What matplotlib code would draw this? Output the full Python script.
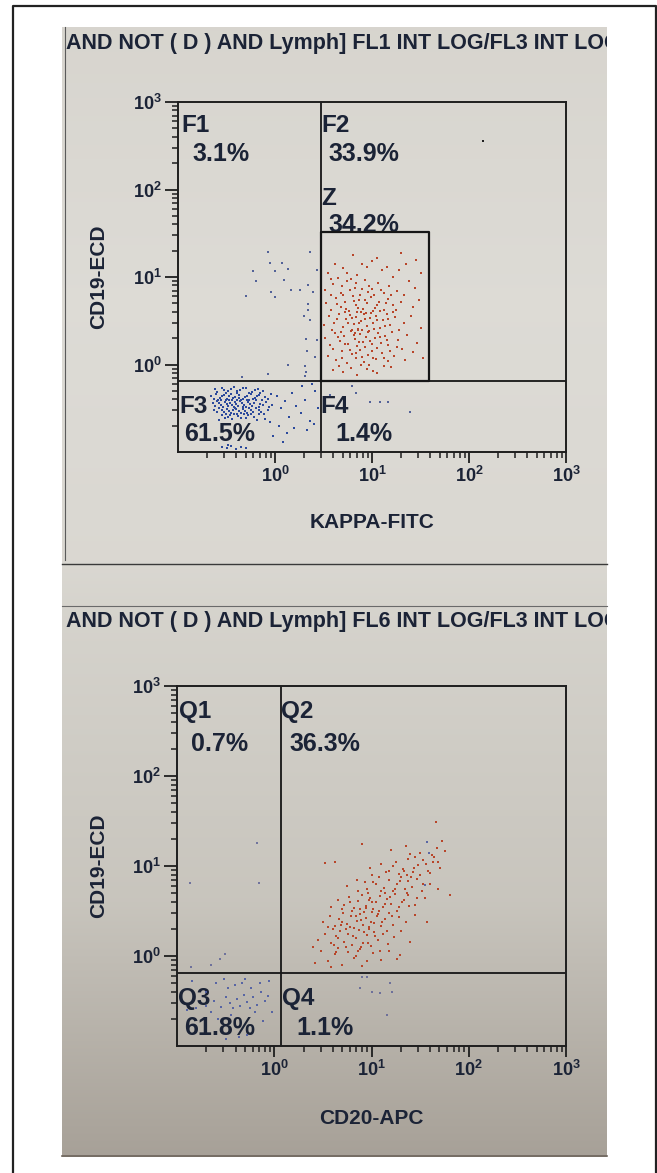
import numpy as np
import matplotlib
matplotlib.use("Agg")
import matplotlib.pyplot as plt
from matplotlib.patches import Rectangle
from matplotlib.ticker import FixedLocator, FixedFormatter, LogLocator, NullFormatter

plt.rcParams['font.family'] = ['Liberation Sans', 'DejaVu Sans']
plt.rcParams['mathtext.fontset'] = 'custom'
plt.rcParams['mathtext.rm'] = 'Liberation Sans'
plt.rcParams['mathtext.bf'] = 'Liberation Sans:bold'

# ---------------- data ----------------
title_top = "AND NOT ( D ) AND Lymph] FL1 INT LOG/FL3 INT LOG"
title_bot = "AND NOT ( D ) AND Lymph] FL6 INT LOG/FL3 INT LOG"
xlabel_top = "KAPPA-FITC"
xlabel_bot = "CD20-APC"
ylabel = "CD19-ECD"
decade_ticks = [1, 10, 100, 1000]
decade_labels = [r'$\mathbf{10^{0}}$', r'$\mathbf{10^{1}}$', r'$\mathbf{10^{2}}$', r'$\mathbf{10^{3}}$']
axis_range = [0.1, 1000]

# quadrant / gate boundaries (linear units)
top_quad_x = 3.0
top_quad_y = 0.65
z_gate_x = [3.0, 39.0]
z_gate_y = [0.65, 32.6]
bot_quad_x = 1.16
bot_quad_y = 0.65

top_names = ["F1", "F2", "Z", "F3", "F4"]
top_pcts = ["3.1%", "33.9%", "34.2%", "61.5%", "1.4%"]
bot_names = ["Q1", "Q2", "Q3", "Q4"]
bot_pcts = ["0.7%", "36.3%", "61.8%", "1.1%"]

# events, given as (log10 x, log10 y)
top_red = [
    (0.80,1.25),(1.05,1.22),(1.30,1.28),(1.45,1.20),(0.62,1.15),
    (0.55,1.05),(0.70,1.10),(0.85,1.02),(0.95,1.12),(1.10,1.08),(1.22,1.00),(1.35,1.15),(1.50,1.05),(0.78,0.98),(1.00,1.18),
    (0.52,0.85),(0.60,0.92),(0.68,0.82),(0.74,0.95),(0.82,0.88),(0.88,0.80),(0.93,0.97),(1.00,0.86),(1.06,0.93),(1.12,0.82),
    (1.18,0.90),(1.26,0.84),(1.38,0.95),(0.65,0.99),(0.96,0.83),
    (0.53,0.70),(0.58,0.62),(0.63,0.76),(0.68,0.66),(0.72,0.72),(0.76,0.61),(0.80,0.78),(0.84,0.68),(0.87,0.74),(0.91,0.63),
    (0.95,0.70),(0.99,0.77),(1.03,0.65),(1.07,0.72),(1.12,0.62),(1.16,0.75),(1.22,0.68),(1.30,0.72),(1.42,0.66),(0.70,0.79),
    (0.89,0.60),(1.01,0.61),
    (0.51,0.45),(0.56,0.55),(0.61,0.48),(0.66,0.58),(0.70,0.43),(0.73,0.52),(0.77,0.57),(0.81,0.46),(0.84,0.54),(0.86,0.41),
    (0.89,0.50),(0.92,0.58),(0.95,0.44),(0.98,0.53),(1.01,0.47),(1.04,0.56),(1.08,0.42),(1.11,0.51),(1.15,0.58),(1.19,0.45),
    (1.24,0.54),(1.33,0.48),(1.40,0.55),(1.50,0.42),(0.79,0.40),(0.94,0.59),
    (0.52,0.30),(0.57,0.22),(0.62,0.36),(0.67,0.27),(0.71,0.33),(0.75,0.24),(0.78,0.38),(0.82,0.29),(0.85,0.21),(0.88,0.35),
    (0.91,0.26),(0.94,0.32),(0.97,0.38),(1.00,0.23),(1.03,0.30),(1.06,0.36),(1.09,0.25),(1.13,0.33),(1.17,0.22),(1.21,0.37),
    (1.27,0.28),(1.36,0.34),(1.46,0.25),(0.86,0.39),
    (0.55,0.10),(0.63,0.05),(0.69,0.16),(0.74,0.02),(0.79,0.12),(0.84,0.07),(0.88,0.17),(0.92,0.03),(0.96,0.11),(1.00,0.15),
    (1.04,0.06),(1.10,0.13),(1.16,0.04),(1.23,0.10),(1.31,0.18),(1.53,0.08),(0.97,0.00),
    (0.70,-0.08),(0.85,-0.12),(0.95,-0.05),(1.05,-0.10),(1.20,-0.03),(0.60,-0.06),
    (0.58,0.80),(0.64,0.69),(0.69,0.90),(0.73,0.63),(0.77,0.85),(0.81,0.73),(0.83,0.93),(0.86,0.65),(0.90,0.86),(0.93,0.74),
    (0.97,0.90),(1.02,0.79),(1.05,0.68),(1.09,0.85),(1.14,0.70),(1.20,0.79),(1.25,0.62),(1.33,0.80),(1.44,0.88),(1.48,0.74),
    (0.59,0.40),(0.64,0.52),(0.68,0.37),(0.72,0.60),(0.75,0.47),(0.79,0.53),(0.82,0.36),(0.85,0.60),(0.87,0.47),(0.90,0.40),
    (0.93,0.52),(0.96,0.37),(0.99,0.59),(1.02,0.41),(1.05,0.51),(1.08,0.61),(1.13,0.44),(1.17,0.52),(1.22,0.60),(1.28,0.40),
    (0.60,0.18),(0.65,0.31),(0.69,0.08),(0.72,0.24),(0.77,0.17),(0.81,0.34),(0.83,0.13),(0.87,0.26),(0.90,0.09),(0.93,0.20),
    (0.98,0.27),(1.01,0.08),(1.05,0.19),(1.08,0.31),(1.12,0.07),(1.15,0.28),(1.19,0.15),(1.26,0.20),(1.34,0.05),(1.42,0.14),
    (0.66,-0.02),(0.78,-0.04),(0.89,-0.01),(1.01,-0.07),(1.12,-0.02),(0.74,1.05),(0.90,1.15),(1.15,1.12),(1.28,1.08),(0.58,0.98),
]
top_blue = [
    (-0.62,-0.28),(-0.55,-0.27),(-0.48,-0.30),(-0.42,-0.26),(-0.36,-0.29),(-0.30,-0.27),(-0.24,-0.31),(-0.18,-0.28),(-0.12,-0.30),
    (-0.51,-0.32),(-0.39,-0.32),(-0.27,-0.32),
    (-0.66,-0.36),(-0.61,-0.34),(-0.57,-0.38),(-0.53,-0.35),(-0.49,-0.39),(-0.45,-0.34),(-0.41,-0.37),(-0.37,-0.35),(-0.33,-0.39),
    (-0.29,-0.36),(-0.25,-0.34),(-0.21,-0.38),(-0.16,-0.35),(-0.10,-0.37),(-0.04,-0.34),(-0.59,-0.40),(-0.47,-0.36),(-0.35,-0.40),
    (-0.23,-0.39),
    (-0.64,-0.44),(-0.60,-0.42),(-0.56,-0.46),(-0.52,-0.43),(-0.48,-0.47),(-0.44,-0.41),(-0.40,-0.45),(-0.36,-0.42),(-0.32,-0.46),
    (-0.28,-0.43),(-0.24,-0.47),(-0.20,-0.41),(-0.15,-0.45),(-0.09,-0.43),(-0.03,-0.46),(-0.54,-0.48),(-0.42,-0.48),(-0.30,-0.48),
    (-0.46,-0.44),(-0.38,-0.47),
    (-0.63,-0.52),(-0.58,-0.50),(-0.53,-0.54),(-0.49,-0.51),(-0.45,-0.55),(-0.41,-0.50),(-0.37,-0.53),(-0.33,-0.51),(-0.29,-0.55),
    (-0.25,-0.52),(-0.20,-0.50),(-0.14,-0.54),(-0.07,-0.52),(-0.47,-0.53),(-0.39,-0.56),(-0.27,-0.50),
    (-0.55,-0.58),(-0.48,-0.60),(-0.42,-0.57),(-0.35,-0.61),(-0.28,-0.58),(-0.22,-0.60),(-0.16,-0.57),(-0.10,-0.62),(-0.32,-0.57),
    (-0.44,-0.62),
    (-0.60,-0.31),(-0.53,-0.29),(-0.45,-0.28),(-0.39,-0.30),(-0.33,-0.27),(-0.21,-0.29),(-0.15,-0.32),
    (-0.63,-0.39),(-0.55,-0.36),(-0.51,-0.41),(-0.43,-0.38),(-0.39,-0.41),(-0.31,-0.37),(-0.27,-0.41),(-0.19,-0.36),(-0.13,-0.40),
    (-0.07,-0.39),
    (-0.62,-0.47),(-0.58,-0.44),(-0.50,-0.45),(-0.44,-0.46),(-0.34,-0.44),(-0.26,-0.45),(-0.22,-0.44),(-0.17,-0.48),(-0.12,-0.46),
    (-0.06,-0.48),
    (-0.60,-0.54),(-0.55,-0.52),(-0.51,-0.56),(-0.43,-0.52),(-0.35,-0.55),(-0.31,-0.53),(-0.23,-0.54),(-0.17,-0.52),(-0.11,-0.56),
    (-0.52,-0.61),(-0.46,-0.58),(-0.38,-0.59),(-0.30,-0.61),(-0.25,-0.57),(-0.19,-0.63),(-0.58,-0.63),
    (-0.41,-0.43),(-0.37,-0.38),(-0.47,-0.41),(-0.56,-0.41),(-0.29,-0.40),(-0.33,-0.49),(-0.40,-0.51),
    (0.02,-0.36),(0.06,-0.50),(0.10,-0.42),(0.14,-0.60),(0.18,-0.33),(0.22,-0.47),(0.27,-0.55),(0.31,-0.40),(0.36,-0.64),
    (0.41,-0.30),(0.44,-0.50),(-0.05,-0.66),(0.04,-0.70),(0.12,-0.78),(0.20,-0.72),(0.33,-0.75),(0.40,-0.68),(-0.02,-0.82),
    (0.08,-0.88),(0.28,-0.25),(0.38,-0.22),
    (-0.55,-0.94),(-0.50,-0.95),(-0.45,-0.93),(-0.40,-0.96),(-0.35,-0.94),(-0.30,-0.95),(-0.48,-0.92),
]
top_scatter = [
    (-0.07,1.29),(0.36,1.29),(0.07,1.16),(-0.05,1.16),(0.13,1.09),(0.00,1.07),(-0.23,1.07),(-0.20,0.95),(0.09,0.97),
    (-0.04,0.83),(-0.30,0.78),(0.00,0.77),(0.17,0.85),(0.26,0.85),(0.34,0.91),(0.39,0.83),(0.34,0.69),(0.34,0.62),
    (0.30,0.55),(0.36,0.51),(0.32,0.29),(0.33,0.16),(0.13,0.00),(0.31,-0.02),(0.32,-0.08),(-0.07,-0.11),(-0.34,-0.14),
    (0.31,-0.13),(0.43,1.08),(0.43,0.28),(0.41,0.09),
    (0.84,-0.33),(0.98,-0.43),(1.08,-0.43),(1.17,-0.43),(1.39,-0.54),(0.79,-0.25),(0.57,-0.35),
]
top_debris = [(2.14,2.56)]

bot_red = [
    (0.42,-0.08),(0.55,-0.05),(0.62,0.02),(0.70,-0.10),(0.76,0.05),(0.82,-0.02),(0.88,0.08),(0.95,-0.06),(1.02,0.03),(1.10,-0.04),
    (1.18,0.06),(0.48,0.06),(0.66,0.09),(0.90,-0.11),(1.26,-0.03),(0.58,-0.12),
    (0.45,0.18),(0.52,0.25),(0.58,0.14),(0.63,0.22),(0.68,0.28),(0.72,0.16),(0.76,0.24),(0.80,0.12),(0.84,0.20),(0.87,0.29),
    (0.91,0.15),(0.95,0.23),(0.99,0.11),(1.03,0.27),(1.07,0.18),(1.12,0.24),(1.17,0.13),(1.23,0.21),(1.30,0.28),(1.40,0.16),
    (0.74,0.30),(0.89,0.10),(0.97,0.30),(0.61,0.12),
    (0.50,0.38),(0.57,0.45),(0.62,0.33),(0.67,0.41),(0.71,0.48),(0.75,0.36),(0.79,0.44),(0.82,0.31),(0.85,0.39),(0.88,0.47),
    (0.91,0.35),(0.94,0.42),(0.97,0.32),(1.00,0.49),(1.03,0.37),(1.06,0.44),(1.10,0.33),(1.14,0.41),(1.18,0.48),(1.22,0.35),
    (1.28,0.43),(1.35,0.38),(1.45,0.46),(0.80,0.50),(0.92,0.49),(0.69,0.34),(1.08,0.50),
    (0.58,0.55),(0.66,0.62),(0.72,0.57),(0.77,0.66),(0.82,0.53),(0.86,0.61),(0.90,0.68),(0.94,0.56),(0.98,0.64),(1.02,0.52),
    (1.05,0.60),(1.09,0.67),(1.12,0.55),(1.16,0.63),(1.20,0.58),(1.24,0.69),(1.28,0.54),(1.33,0.62),(1.38,0.68),(1.45,0.57),
    (1.55,0.65),(0.96,0.70),(1.14,0.70),(0.88,0.52),
    (0.75,0.78),(0.85,0.84),(0.95,0.75),(1.02,0.82),(1.08,0.88),(1.13,0.76),(1.18,0.85),(1.22,0.72),(1.26,0.80),(1.30,0.88),
    (1.34,0.74),(1.38,0.83),(1.42,0.77),(1.47,0.86),(1.52,0.72),(1.60,0.80),(1.68,0.75),(1.10,0.72),(1.36,0.90),
    (0.98,0.98),(1.10,1.02),(1.18,0.94),(1.25,1.05),(1.32,0.97),(1.38,1.08),(1.43,0.93),(1.48,1.01),(1.53,1.07),(1.58,0.95),
    (1.63,1.04),(1.70,0.98),(1.45,1.10),(1.28,0.91),
    (1.20,1.18),(1.35,1.22),(1.50,1.15),(1.62,1.12),(1.67,1.20),(1.72,1.28),(1.40,1.13),(1.76,1.17),
    (0.52,1.03),(0.62,1.04),(0.90,1.25),(1.66,1.49),(1.81,0.68),(1.57,0.38),(1.29,0.01),(0.40,0.10),
    (0.60,0.30),(0.66,0.20),(0.70,0.38),(0.74,0.10),(0.78,0.32),(0.81,0.22),(0.84,0.45),(0.86,0.06),(0.89,0.40),(0.92,0.27),
    (0.94,0.53),(0.96,0.15),(0.99,0.38),(1.01,0.60),(1.04,0.22),(1.07,0.47),(1.09,0.06),(1.11,0.38),(1.14,0.58),(1.16,0.28),
    (1.19,0.66),(1.21,0.44),(1.24,0.75),(1.26,0.50),(1.29,0.83),(1.31,0.60),(1.33,0.95),(1.36,0.70),(1.39,0.56),(1.41,0.88),
    (1.44,0.98),(1.47,0.64),(1.50,0.90),(1.53,0.80),(1.56,1.02),(1.60,0.92),(1.64,1.10),(1.68,1.05),(0.70,0.52),(0.78,0.60),
    (0.86,0.72),(0.93,0.82),(1.00,0.90),(0.64,0.05),(0.55,0.32),(0.84,0.00),(1.05,0.80),(1.15,0.93),(1.22,1.00),(0.97,0.62),
]
bot_blue = [
    (-0.90,-0.60),(-0.80,-0.58),(-0.70,-0.55),(-0.62,-0.50),(-0.55,-0.57),(-0.50,-0.45),(-0.46,-0.52),(-0.42,-0.58),(-0.38,-0.48),
    (-0.35,-0.55),(-0.31,-0.43),(-0.28,-0.51),(-0.25,-0.58),(-0.22,-0.46),(-0.18,-0.54),(-0.14,-0.40),(-0.10,-0.50),(-0.06,-0.44),
    (-0.48,-0.36),(-0.40,-0.32),(-0.33,-0.30),(-0.24,-0.35),(-0.15,-0.30),(-0.60,-0.30),(-0.52,-0.26),(-0.30,-0.25),(-0.20,-0.62),
    (-0.44,-0.66),(-0.58,-0.70),(-0.12,-0.72),(-0.36,-0.90),(-0.50,-0.92),(-0.28,-0.88),(-0.70,-0.40),(-0.85,-0.28),(-0.05,-0.28),
    (-0.65,-0.62),(-0.02,-0.62),
    (1.57,1.27),(1.59,1.14),(1.55,0.79),
]
bot_scatter = [
    (-0.18,1.26),(-0.87,0.81),(-0.16,0.81),(-0.51,0.02),(-0.56,-0.03),(-0.65,-0.10),(-0.86,-0.12),
    (0.90,-0.23),(0.95,-0.23),(0.88,-0.36),(1.00,-0.40),(1.09,-0.41),(1.19,-0.30),(1.21,-0.40),(1.16,-0.66),
]

# ---------------- styling ----------------
W, H = 657, 1173
TXT = '#1b2336'
RED = '#b8462a'
BLUE = '#2c4a9c'
fig = plt.figure(figsize=(W / 100, H / 100), dpi=100)
fig.patch.set_facecolor('white')

bg = fig.add_axes([0, 0, 1, 1])
bg.set_xlim(0, W)
bg.set_ylim(H, 0)
bg.axis('off')

# paper photo with a soft vertical shading
stops_y = np.array([27, 300, 560, 620, 900, 1156])
stops_c = np.array([[0.845, 0.835, 0.810], [0.868, 0.860, 0.838], [0.855, 0.846, 0.822],
                    [0.835, 0.826, 0.800], [0.785, 0.772, 0.742], [0.655, 0.630, 0.595]])
yy = np.arange(27, 1157)
grad = np.stack([np.interp(yy, stops_y, stops_c[:, k]) for k in range(3)], axis=-1)[:, None, :]
grad = np.repeat(grad, 4, axis=1)
bg.imshow(grad, extent=(62, 607, 1157, 27), aspect='auto', zorder=0, interpolation='bilinear')
photo_clip = Rectangle((62, 27), 545, 1130, transform=bg.transData, facecolor='none', edgecolor='none')
bg.add_patch(photo_clip)

# outer frame
bg.plot([12.5, 12.5, 655.5, 655.5], [1180, 5.5, 5.5, 1180], color='#222222', lw=1.6, zorder=1, clip_on=False)
# page edges / separators
bg.plot([64.5, 64.5], [27, 560], color='#5a5a5a', lw=0.8, zorder=1)
bg.plot([62, 607], [563.5, 563.5], color='#3a3a3a', lw=1.0, zorder=1)
bg.plot([62, 607], [606, 606], color='#6a6a6a', lw=0.8, zorder=1)
bg.plot([62, 607], [1155.5, 1155.5], color='#6d655c', lw=1.2, zorder=1)

t1 = bg.text(66, 43, title_top, fontsize=15.5, fontweight='bold', color=TXT, va='center', ha='left',
             zorder=2, clip_on=True)
t1.set_clip_path(photo_clip)
t2 = bg.text(66, 622, title_bot, fontsize=15.5, fontweight='bold', color=TXT, va='center', ha='left',
             zorder=2, clip_on=True)
t2.set_clip_path(photo_clip)


def make_axes(left, top, right, bottom):
    ax = fig.add_axes([left / W, 1 - bottom / H, (right - left) / W, (bottom - top) / H])
    ax.set_facecolor('none')
    ax.set_xscale('log')
    ax.set_yscale('log')
    ax.set_xlim(axis_range)
    ax.set_ylim(axis_range)
    for axis in (ax.xaxis, ax.yaxis):
        axis.set_major_locator(FixedLocator(decade_ticks))
        axis.set_major_formatter(FixedFormatter(decade_labels))
        axis.set_minor_locator(LogLocator(base=10, subs=np.arange(2, 10)))
        axis.set_minor_formatter(NullFormatter())
    ax.tick_params(axis='x', which='major', length=8, width=1.3, direction='out', pad=2,
                   labelsize=13, labelcolor=TXT, color='#1e1e1e')
    ax.tick_params(axis='y', which='major', length=9.5, width=1.3, direction='out', pad=2,
                   labelsize=13, labelcolor=TXT, color='#1e1e1e')
    ax.tick_params(which='minor', length=4.5, width=1.1, direction='out', color='#1e1e1e')
    for s in ax.spines.values():
        s.set_linewidth(1.4)
        s.set_color('#1e1e1e')
    return ax


def draw_events(ax, pts, color, size=4.0, alpha=1.0):
    arr = np.array(pts, dtype=float)
    ax.scatter(10 ** arr[:, 0], 10 ** arr[:, 1], s=size, marker='s', c=color, linewidths=0,
               alpha=alpha, zorder=3)


# ---------------- top plot ----------------
ax1 = make_axes(178, 102, 566, 452)
ax1.axvline(top_quad_x, color='#161616', lw=1.3, zorder=2)
ax1.axhline(top_quad_y, color='#161616', lw=1.3, zorder=2)
ax1.plot([z_gate_x[0], z_gate_x[1], z_gate_x[1], z_gate_x[0], z_gate_x[0]],
         [z_gate_y[0], z_gate_y[0], z_gate_y[1], z_gate_y[1], z_gate_y[0]],
         color='#161616', lw=1.6, zorder=2)
draw_events(ax1, top_red, RED)
draw_events(ax1, top_blue, BLUE, size=4.5)
draw_events(ax1, top_scatter, '#3b4d8e', size=3.0, alpha=0.85)
draw_events(ax1, top_debris, '#202020', size=4)
ax1.set_xlabel(xlabel_top, fontsize=15, fontweight='bold', color=TXT, va='center')
ax1.xaxis.set_label_coords(0.5, (452 - 522) / 350)
ax1.set_ylabel(ylabel, fontsize=15, fontweight='bold', color=TXT, va='center', ha='center')
ax1.yaxis.set_label_coords((99 - 178) / 388, 0.5)

# ---------------- bottom plot ----------------
ax2 = make_axes(177, 686, 566, 1046)
ax2.axvline(bot_quad_x, color='#161616', lw=1.3, zorder=2)
ax2.axhline(bot_quad_y, color='#161616', lw=1.3, zorder=2)
draw_events(ax2, bot_red, RED)
draw_events(ax2, bot_blue, '#4d5ca3', size=3.2, alpha=0.9)
draw_events(ax2, bot_scatter, '#5a5f95', size=2.8, alpha=0.8)
ax2.set_xlabel(xlabel_bot, fontsize=15, fontweight='bold', color=TXT, va='center')
ax2.xaxis.set_label_coords(0.5, (1046 - 1119) / 360)
ax2.set_ylabel(ylabel, fontsize=15, fontweight='bold', color=TXT, va='center', ha='center')
ax2.yaxis.set_label_coords((99 - 177) / 389, 0.5)

# ---------------- region labels (pixel anchors, top-left) ----------------
name_pos_top = [(181, 114), (321, 114), (321, 187), (179, 395), (320, 395)]
pct_pos_top = [(192, 142), (328, 142), (328, 213), (184, 422), (335, 422)]
name_pos_bot = [(179, 700), (281, 700), (178, 987), (282, 987)]
pct_pos_bot = [(191, 732), (289, 732), (184, 1016), (296, 1016)]
for (x, y), s in zip(name_pos_top, top_names):
    bg.text(x, y, s, fontsize=17.5, fontweight='bold', color=TXT, va='top', ha='left', zorder=4)
for (x, y), s in zip(pct_pos_top, top_pcts):
    bg.text(x, y, s, fontsize=18, fontweight='bold', color=TXT, va='top', ha='left', zorder=4)
for (x, y), s in zip(name_pos_bot, bot_names):
    bg.text(x, y, s, fontsize=17.5, fontweight='bold', color=TXT, va='top', ha='left', zorder=4)
for (x, y), s in zip(pct_pos_bot, bot_pcts):
    bg.text(x, y, s, fontsize=18, fontweight='bold', color=TXT, va='top', ha='left', zorder=4)

fig.savefig('out.png', dpi=100, facecolor='white')
